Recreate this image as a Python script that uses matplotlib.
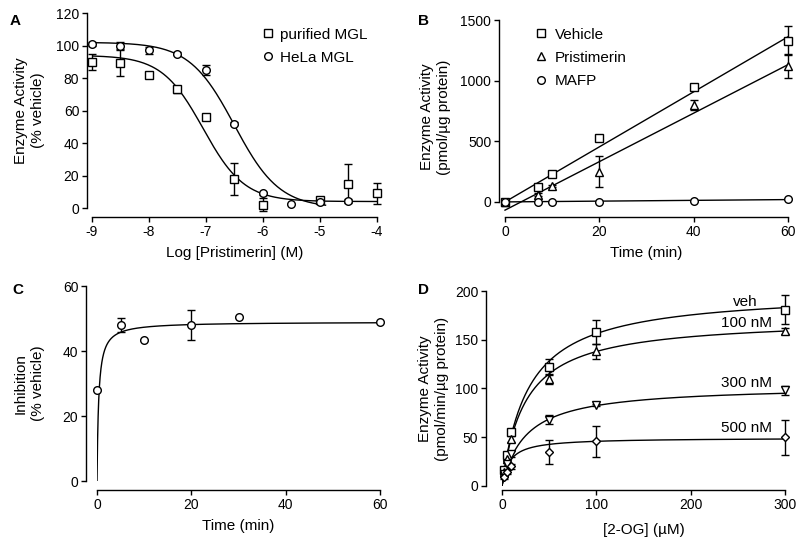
import numpy as np
import matplotlib.pyplot as plt

plt.rcParams['font.family'] = ['Liberation Sans', 'DejaVu Sans']
plt.rcParams['font.size'] = 10
plt.rcParams['axes.unicode_minus'] = False

# A: concentration-response
a_x_pur = [-9, -8.5, -8, -7.5, -7, -6.5, -6, -5, -4.5, -4]
a_y_pur = [90, 89, 82, 73, 56, 18, 2, 5, 15, 9]
a_e_pur = [5, 8, 1, 2, 2, 10, 4, 2, 12, 6.5]
a_x_hela = [-9, -8.5, -8, -7.5, -7, -6.5, -6, -5.5, -5, -4.5]
a_y_hela = [101, 100, 97, 95, 85, 52, 9, 2.5, 4, 4.5]
a_e_hela = [1, 2, 2, 1, 3, 1, 1, 0, 1, 1]
# fit: top, bottom, logIC50, hill
a_fit_pur = [94, 4, -7.05, 1.2]
a_fit_hela = [102, 0, -6.5, 1.1]

# B: time course
b_t = [0, 7, 10, 20, 40, 60]
b_veh = [0, 120, 230, 530, 950, 1330]
b_veh_err = [10, 10, 10, 10, 20, 120]
b_pri = [0, 60, 130, 250, 800, 1120]
b_pri_err = [10, 10, 10, 125, 40, 100]
b_mafp = [0, 0, 0, 0, 10, 20]
b_mafp_err = [0, 0, 0, 0, 0, 0]
# fit: intercept, slope
b_fit_veh = [0, 22.7]
b_fit_pri = [-68, 20.0]
b_fit_mafp = [0, 0.32]

# C: inhibition vs time
c_t = [0, 5, 10, 20, 30, 60]
c_inh = [28, 48, 43.5, 48, 50.5, 49]
c_err = [0, 2.2, 0, 4.5, 0, 0]
c_fit = [49, 0.35]  # Bmax, K

# D: Michaelis-Menten
d_s = [2.5, 5, 10, 50, 100, 300]
d_veh = [16, 32, 55, 122, 158, 181]
d_veh_err = [2, 2, 3, 8, 12, 14.5]
d_100 = [14, 28, 48, 110, 138, 159]
d_100_err = [2, 2, 3, 5, 8, 3]
d_300 = [12, 22, 33, 68, 83, 98]
d_300_err = [2, 2, 3, 4.5, 1, 5]
d_500 = [9, 14, 20, 35, 46, 50]
d_500_err = [2, 2, 3, 12, 16, 18]
d_fit = {'veh': [200, 28], '100 nM': [172, 24.7], '300 nM': [103, 25], '500 nM': [49.4, 7.9]}


def sigmoid(x, top, bottom, logic50, hill):
    return bottom + (top - bottom) / (1 + 10 ** (hill * (x - logic50)))


def style(ax, left_out, bottom_out):
    for s in ['top', 'right']:
        ax.spines[s].set_visible(False)
    ax.spines['left'].set_position(('outward', left_out * 0.72))
    ax.spines['bottom'].set_position(('outward', bottom_out * 0.72))
    ax.tick_params(direction='out', length=3.5, width=1, labelsize=10, pad=2)
    ax.spines['left'].set_linewidth(1)
    ax.spines['bottom'].set_linewidth(1)


def ylabel(ax, text, xpix):
    ax.set_ylabel(text, fontsize=11, linespacing=1.3)
    pos = ax.get_position()
    ax.yaxis.set_label_coords(xpix / 800, (pos.y0 + pos.y1) / 2, transform=fig.transFigure)


def points(ax, x, y, err, marker, label=None, ms=5.5):
    ax.errorbar(x, y, yerr=err, fmt='none', ecolor='black', elinewidth=1,
                capsize=3, capthick=1, clip_on=False, zorder=2)
    ax.plot(x, y, linestyle='none', marker=marker, ms=ms, mfc='white', mec='black',
            mew=1, clip_on=False, zorder=3, label=label)


fig = plt.figure(figsize=(8, 5.46), dpi=100)

# ---- A
ax = fig.add_axes([0.115, 0.619, 0.356, 0.357])
xs = np.linspace(-9, -4, 200)
ax.plot(xs, sigmoid(xs, *a_fit_pur), color='black', lw=1, zorder=1)
xs = np.linspace(-9, -4.9, 200)
ax.plot(xs, sigmoid(xs, *a_fit_hela), color='black', lw=1, zorder=1)
points(ax, a_x_pur, a_y_pur, a_e_pur, 's', 'purified MGL')
points(ax, a_x_hela, a_y_hela, a_e_hela, 'o', 'HeLa MGL')
ax.set_xlim(-9, -4)
ax.set_ylim(0, 120)
ax.set_yticks([0, 20, 40, 60, 80, 100, 120])
ax.set_xticks([-9, -8, -7, -6, -5, -4])
style(ax, 5, 9)
ax.set_xlabel('Log [Pristimerin] (M)', fontsize=11, labelpad=5)
ylabel(ax, 'Enzyme Activity\n(% vehicle)', 45)
ax.legend(loc='upper left', bbox_to_anchor=(0.57, 0.965), frameon=False, fontsize=11,
          handlelength=0.8, handletextpad=0.4, labelspacing=0.6, borderpad=0)
fig.text(0.012, 0.975, 'A', fontsize=11, fontweight='bold', va='top')

# ---- B
ax = fig.add_axes([0.63125, 0.608, 0.35375, 0.3553])
ts = np.linspace(0, 60, 50)
for fit in [b_fit_veh, b_fit_pri, b_fit_mafp]:
    ax.plot(ts, fit[0] + fit[1] * ts, color='black', lw=1, zorder=1, clip_on=False)
points(ax, b_t, b_veh, b_veh_err, 's', 'Vehicle')
points(ax, b_t, b_pri, b_pri_err, '^', 'Pristimerin')
points(ax, b_t, b_mafp, b_mafp_err, 'o', 'MAFP')
ax.set_xlim(0, 60)
ax.set_ylim(-100, 1500)
ax.set_yticks([0, 500, 1000, 1500])
ax.set_xticks([0, 20, 40, 60])
style(ax, 6, 3)
ax.spines['left'].set_bounds(0, 1500)
ax.set_xlabel('Time (min)', fontsize=11, labelpad=5)
ylabel(ax, 'Enzyme Activity\n(pmol/\u00b5g protein)', 451)
ax.legend(loc='upper left', bbox_to_anchor=(0.08, 1.0), frameon=False, fontsize=11,
          handlelength=0.8, handletextpad=0.5, labelspacing=0.6, borderpad=0)
fig.text(0.522, 0.975, 'B', fontsize=11, fontweight='bold', va='top')

# ---- C
ax = fig.add_axes([0.12125, 0.119, 0.35375, 0.357])
ts = np.linspace(0, 60, 2000)
ax.plot(ts, c_fit[0] * ts / (c_fit[1] + ts), color='black', lw=1, zorder=1)
points(ax, c_t, c_inh, c_err, 'o')
ax.set_xlim(0, 60)
ax.set_ylim(0, 60)
ax.set_yticks([0, 20, 40, 60])
ax.set_xticks([0, 20, 40, 60])
style(ax, 11, 9)
ax.set_xlabel('Time (min)', fontsize=11, labelpad=5)
ylabel(ax, 'Inhibition\n(% vehicle)', 45)
fig.text(0.016, 0.482, 'C', fontsize=11, fontweight='bold', va='top')

# ---- D
ax = fig.add_axes([0.6275, 0.11, 0.35375, 0.357])
ss = np.linspace(0, 300, 600)
d_series = [(d_veh, d_veh_err, 's', 'veh', 189),
            (d_100, d_100_err, '^', '100 nM', 167),
            (d_300, d_300_err, 'v', '300 nM', 106),
            (d_500, d_500_err, 'D', '500 nM', 59.5)]
for y, e, m, name, ty in d_series:
    vmax, km = d_fit[name]
    ax.plot(ss, vmax * ss / (km + ss), color='black', lw=1, zorder=1)
    points(ax, d_s, y, e, m, ms=5.5 if m != 'D' else 4.5)
    ax.text(286 if name != 'veh' else 271, ty, name, fontsize=11, ha='right', va='center')
ax.set_xlim(0, 300)
ax.set_ylim(0, 200)
ax.set_yticks([0, 50, 100, 150, 200])
ax.set_xticks([0, 100, 200, 300])
style(ax, 16, 4)
ax.set_xlabel('[2-OG] (\u00b5M)', fontsize=11, labelpad=8)
ylabel(ax, 'Enzyme Activity\n(pmol/min/\u00b5g protein)', 449)
fig.text(0.522, 0.482, 'D', fontsize=11, fontweight='bold', va='top')

fig.savefig('out.png', dpi=100)
